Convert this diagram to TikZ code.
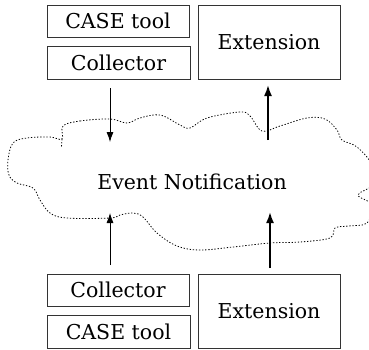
\documentclass[tikz,border=0pt]{standalone}
\usepackage{fontspec}
\setmainfont{DejaVu Serif}
\usetikzlibrary{arrows.meta, positioning}

\begin{document}
\begin{tikzpicture}[
    x=1pt, y=-1pt,
    box/.style={draw=black!80, line width=0.9pt, minimum width=142pt, minimum height=32pt, inner sep=0pt, font=\fontsize{20.5}{24}\selectfont},
    bigbox/.style={box, minimum height=74pt},
    arrow/.style={-{Latex[length=10pt, width=7pt]}, line width=0.8pt},
    thickarrow/.style={-{Latex[length=11pt, width=8pt]}, line width=1.8pt},
    cloud/.style={dash pattern=on 1.3pt off 1.8pt, line width=0.8pt}
]
    \useasboundingbox (0,0) rectangle (369,349);

    % Upper tools
    \node[box] (casetop) at (118,21) {CASE tool};
    \node[box, minimum width=143pt, minimum height=33pt] (colltop) at (118.5,62.5) {Collector};
    \node[bigbox] (exttop) at (269,42) {Extension};

    % Notification cloud
    \draw[cloud] plot[smooth cycle, tension=0.6] coordinates {
        (63,126) (80,121) (110,119) (127,123) (140,118) (160,115) (180,125)
        (190,128) (207,118) (240,112) (250,116) (262,131) (280,126) (307,118)
        (325,119) (337,130) (342,140) (357,147) (372,165) (372,185) (358,195)
        (372,205) (367,223) (348,226) (335,228) (330,238) (300,242) (270,243)
        (233,247) (200,250) (177,246) (157,233) (143,217) (133,213) (120,215)
        (110,218) (67,218) (50,213) (40,200) (33,188) (17,183) (9,175)
        (8,160) (13,143) (27,138) (50,137) (62,139)};
    \draw[cloud] (62,139) -- (61.5,147);
    \node[font=\fontsize{20.5}{24}\selectfont] (event) at (192,182) {Event Notification};

    % Lower tools
    \node[box] (collbot) at (118,290) {Collector};
    \node[box, minimum width=143pt, minimum height=33pt] (casebot) at (118.5,331.5) {CASE tool};
    \node[bigbox] (extbot) at (269,311) {Extension};

    % Arrow ends inside the cloud
    \coordinate (intop) at (110,88);
    \coordinate (inend) at (110,142);
    \coordinate (outtop) at (268,140);
    \coordinate (outend) at (268,85);
    \coordinate (inbot) at (110,265);
    \coordinate (inbotend) at (110,213);
    \coordinate (outbot) at (270,268);
    \coordinate (outbotend) at (270,212);

    % Arrows
    \draw[arrow] (intop) -- (inend);
    \draw[thickarrow] (outtop) -- (outend);
    \draw[arrow] (inbot) -- (inbotend);
    \draw[thickarrow] (outbot) -- (outbotend);
\end{tikzpicture}
\end{document}
